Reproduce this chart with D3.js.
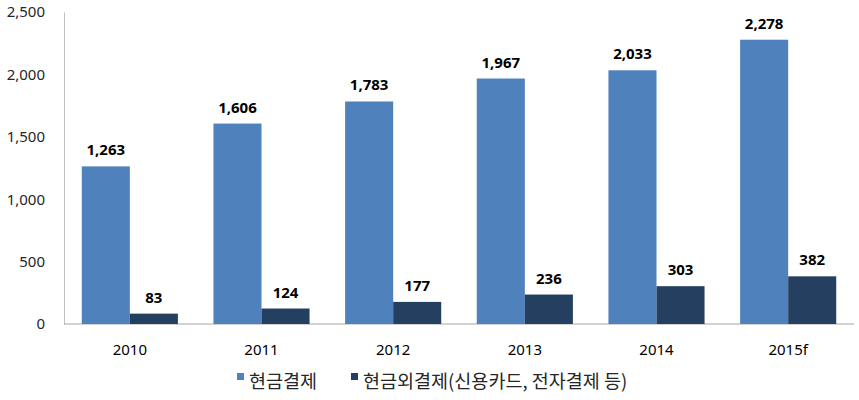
<!DOCTYPE html>
<html><head><meta charset="utf-8">
<script src="https://cdn.jsdelivr.net/npm/d3@7"></script>
<style>body{margin:0;background:#fff}svg{display:block}</style>
</head><body>
<script>
const categories = ["2010","2011","2012","2013","2014","2015f"];
const cashValues = [1263,1606,1783,1967,2033,2278];
const nonCashValues = [83,124,177,236,303,382];
const seriesNames = ["현금결제","현금외결제(신용카드, 전자결제 등)"];
const yTicks = [0,500,1000,1500,2000,2500];

const W=859,H=400;
const m={left:64,right:5,top:12,bottom:76};
const svg=d3.select("body").append("svg").attr("width",W).attr("height",H);
const x=d3.scaleBand().domain(categories).range([m.left,W-m.right]).paddingInner(0.27).paddingOuter(0.135);
const xs=d3.scaleBand().domain([0,1]).range([0,x.bandwidth()]);
const y=d3.scaleLinear().domain([0,2500]).range([H-m.bottom,m.top]);
const colors=["#4F81BD","#243F60"];
const numFont="'Noto Sans', 'DejaVu Sans', sans-serif";
const fmt=d3.format(",");

// y axis
const ya=svg.append("g").attr("transform",`translate(${m.left},0)`)
  .call(d3.axisLeft(y).tickValues(yTicks).tickFormat(fmt).tickSize(0).tickPadding(19));
ya.select(".domain").attr("stroke","#bfbfbf");
ya.selectAll("text").attr("font-family",numFont).attr("font-size",15).attr("fill","#262626");

// x axis
const xa=svg.append("g").attr("transform",`translate(0,${H-m.bottom})`)
  .call(d3.axisBottom(x).tickSize(0).tickPadding(20));
xa.select(".domain").attr("stroke","#a6a6a6").attr("d",`M${m.left},0H${W-5}`);
xa.selectAll("text").attr("font-family",numFont).attr("font-size",15).attr("fill","#000");

const data=[cashValues,nonCashValues];
data.forEach((vals,si)=>{
  const g=svg.append("g");
  g.selectAll("rect").data(vals).join("rect")
    .attr("x",(d,i)=>x(categories[i])+xs(si)).attr("width",xs.bandwidth())
    .attr("y",d=>y(d)).attr("height",d=>y(0)-y(d)).attr("fill",colors[si]);
  g.selectAll("text").data(vals).join("text")
    .attr("x",(d,i)=>x(categories[i])+xs(si)+xs.bandwidth()/2)
    .attr("y",d=>y(d)-11).attr("text-anchor","middle")
    .attr("font-family",numFont).attr("font-size",15).attr("font-weight","bold").attr("fill","#000")
    .text(d=>fmt(d));
});

// legend
const leg=svg.append("g").attr("font-family","'Noto Sans CJK KR', sans-serif").attr("font-size",18.5).attr("fill","#262626");
const legX=[237,351];
seriesNames.forEach((n,i)=>{
  leg.append("rect").attr("x",legX[i]).attr("y",373).attr("width",7).attr("height",7).attr("fill",colors[i]);
  leg.append("text").attr("x",legX[i]+12).attr("y",388).text(n);
});
</script>
</body></html>
